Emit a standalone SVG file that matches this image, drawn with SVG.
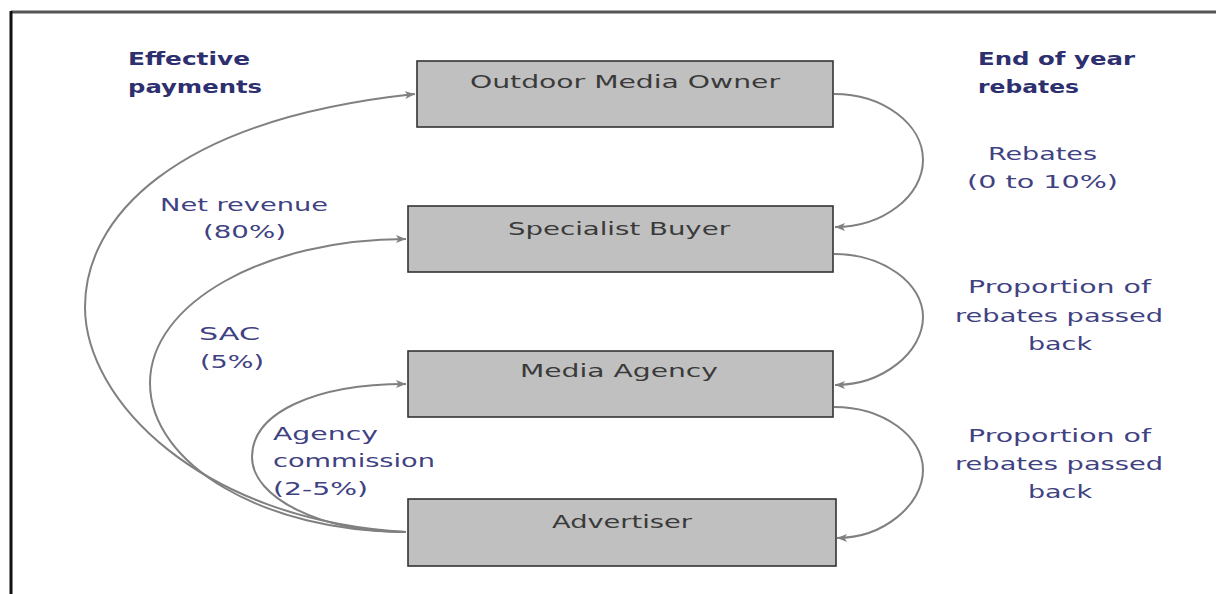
<svg xmlns="http://www.w3.org/2000/svg" width="1216" height="594" viewBox="0 0 1216 594">
  <style>
    .box { fill: #c0c0c0; stroke: #333333; stroke-width: 1.6; }
    .boxlabel { font-family: "DejaVu Sans", "Liberation Sans", sans-serif; font-size: 18px; fill: #3a3a3a; }
    .head { font-family: "DejaVu Sans", "Liberation Sans", sans-serif; font-size: 17px; font-weight: bold; fill: #2d2f6e; }
    .label { font-family: "DejaVu Sans", "Liberation Sans", sans-serif; font-size: 18px; fill: #3f4282; }
    .flow { fill: none; stroke: #808080; stroke-width: 2; marker-end: url(#arrow); }
  </style>
  <defs>
    <marker id="arrow" markerUnits="userSpaceOnUse" markerWidth="12" markerHeight="10" refX="10" refY="5" orient="auto">
      <path d="M0,1 L10,5 L0,9 L2.5,5 Z" fill="#808080"/>
    </marker>
  </defs>

  <rect x="0" y="0" width="1216" height="594" fill="#ffffff"/>

  <!-- frame -->
  <line x1="11" y1="12" x2="1216" y2="12" stroke="#555555" stroke-width="3"/>
  <line x1="11" y1="11" x2="11" y2="594" stroke="#111111" stroke-width="3"/>

  <!-- column headings -->
  <g id="heading-left">
    <text class="head" x="128" y="65" textLength="122" lengthAdjust="spacingAndGlyphs">Effective</text>
    <text class="head" x="128" y="93" textLength="134" lengthAdjust="spacingAndGlyphs">payments</text>
  </g>
  <g id="heading-right">
    <text class="head" x="978" y="65" textLength="157" lengthAdjust="spacingAndGlyphs">End of year</text>
    <text class="head" x="978" y="93" textLength="101" lengthAdjust="spacingAndGlyphs">rebates</text>
  </g>

  <!-- connectors -->
  <g id="connectors">
    <!-- payments from the advertiser (left) -->
    <path class="flow" d="M406,532 C200,520 85,400 85,307 C85,220 170,120 415,94"/>
    <path class="flow" d="M406,532 C265,532 150,465 150,383 C150,303 265,239 406,239"/>
    <path class="flow" d="M406,532 C321,532 252,498 252,457 C252,413 314,384 406,384"/>
    <!-- rebates flowing down (right) -->
    <path class="flow" d="M834,94 C883,94 923,124 923,160 C923,196 883,227 835,227"/>
    <path class="flow" d="M834,254 C883,254 923,283 923,317 C923,352 883,385 835,385"/>
    <path class="flow" d="M834,407 C883,407 923,436 923,470 C923,505 883,538 837,538"/>
  </g>

  <!-- connector labels -->
  <g id="label-net-revenue">
    <text class="label" x="160" y="211" textLength="168" lengthAdjust="spacingAndGlyphs">Net revenue</text>
    <text class="label" x="203" y="238" textLength="83" lengthAdjust="spacingAndGlyphs">(80%)</text>
  </g>
  <g id="label-sac">
    <text class="label" x="199" y="340" textLength="61" lengthAdjust="spacingAndGlyphs">SAC</text>
    <text class="label" x="200" y="368" textLength="64" lengthAdjust="spacingAndGlyphs">(5%)</text>
  </g>
  <g id="label-agency-commission">
    <text class="label" x="273" y="440" textLength="105" lengthAdjust="spacingAndGlyphs">Agency</text>
    <text class="label" x="273" y="467" textLength="162" lengthAdjust="spacingAndGlyphs">commission</text>
    <text class="label" x="273" y="495" textLength="95" lengthAdjust="spacingAndGlyphs">(2-5%)</text>
  </g>
  <g id="label-rebates">
    <text class="label" x="988" y="160" textLength="109" lengthAdjust="spacingAndGlyphs">Rebates</text>
    <text class="label" x="967" y="188" textLength="151" lengthAdjust="spacingAndGlyphs">(0 to 10%)</text>
  </g>
  <g id="label-passed-back-1">
    <text class="label" x="968" y="293" textLength="183" lengthAdjust="spacingAndGlyphs">Proportion of</text>
    <text class="label" x="955" y="322" textLength="208" lengthAdjust="spacingAndGlyphs">rebates passed</text>
    <text class="label" x="1028" y="350" textLength="64" lengthAdjust="spacingAndGlyphs">back</text>
  </g>
  <g id="label-passed-back-2">
    <text class="label" x="968" y="442" textLength="183" lengthAdjust="spacingAndGlyphs">Proportion of</text>
    <text class="label" x="955" y="470" textLength="208" lengthAdjust="spacingAndGlyphs">rebates passed</text>
    <text class="label" x="1028" y="498" textLength="64" lengthAdjust="spacingAndGlyphs">back</text>
  </g>

  <!-- nodes -->
  <g id="outdoor-media-owner">
    <rect class="box" x="417" y="61" width="416" height="66"/>
    <text class="boxlabel" x="470" y="88" textLength="310" lengthAdjust="spacingAndGlyphs">Outdoor Media Owner</text>
  </g>
  <g id="specialist-buyer">
    <rect class="box" x="408" y="206" width="425" height="66"/>
    <text class="boxlabel" x="508" y="235" textLength="222" lengthAdjust="spacingAndGlyphs">Specialist Buyer</text>
  </g>
  <g id="media-agency">
    <rect class="box" x="408" y="351" width="425" height="66"/>
    <text class="boxlabel" x="520" y="377" textLength="198" lengthAdjust="spacingAndGlyphs">Media Agency</text>
  </g>
  <g id="advertiser">
    <rect class="box" x="408" y="499" width="428" height="67"/>
    <text class="boxlabel" x="552" y="528" textLength="140" lengthAdjust="spacingAndGlyphs">Advertiser</text>
  </g>
</svg>
